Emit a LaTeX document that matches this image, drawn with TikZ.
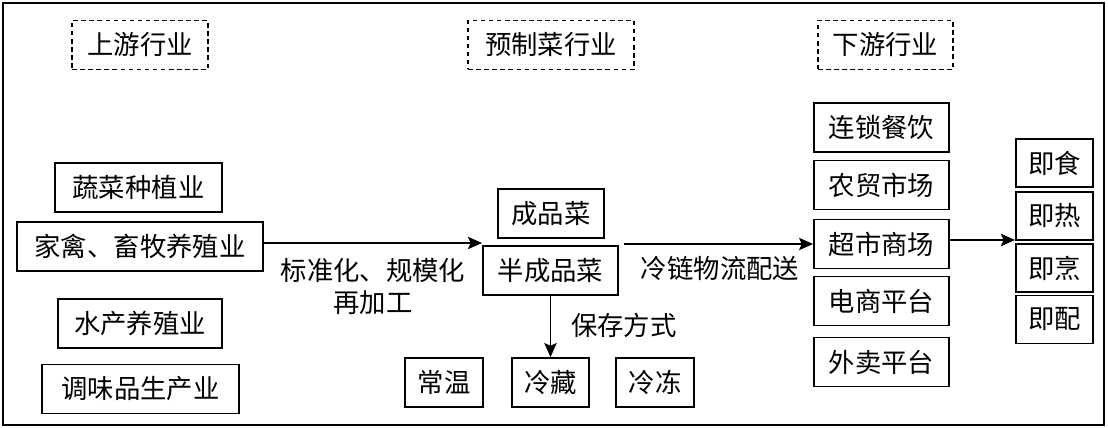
\documentclass[tikz,border=0pt]{standalone}
\usepackage{fontspec}
\setmainfont{Noto Sans CJK SC}
\usetikzlibrary{arrows.meta}
\tikzset{box/.style={draw, line width=1pt, inner sep=0pt, minimum height=0.98cm},
         hdr/.style={draw, dashed, dash pattern=on 2.6pt off 2pt, line width=1pt, inner sep=0pt, minimum height=0.98cm},
         flow/.style={line width=1pt, -{Stealth[length=8pt,width=7pt,inset=1.5pt]}}}

\begin{document}
\begin{tikzpicture}[x=0.02cm, y=-0.02cm, font=\fontsize{15}{18}\selectfont]
  \useasboundingbox (0,0) rectangle (1108,428);
  \draw[line width=1.5pt] (3,3) rectangle (1104,425);

  % ---------- column heads ----------
  \node[hdr, minimum width=2.72cm] (hup)   at (140,45)   {上游行业};
  \node[hdr, minimum width=3.32cm] (hpre)  at (551,45)   {预制菜行业};
  \node[hdr, minimum width=2.70cm] (hdown) at (885.5,45) {下游行业};

  % ---------- upstream ----------
  \node[box, minimum width=3.34cm] (veg)     at (138.5,187.5) {蔬菜种植业};
  \node[box, minimum width=4.92cm] (poultry) at (140,246.5)   {家禽、畜牧养殖业};
  \node[box, minimum width=3.28cm] (aqua)    at (140,323.5)   {水产养殖业};
  \node[box, minimum width=3.94cm] (season)  at (140.5,389)   {调味品生产业};

  % ---------- prepared dishes ----------
  \node[box, minimum width=2.12cm] (dish)   at (551,213.5)   {成品菜};
  \node[box, minimum width=2.70cm] (semi)   at (550.5,270.5) {半成品菜};
  \node[box, minimum width=1.56cm] (room)   at (444,382.5)   {常温};
  \node[box, minimum width=1.54cm] (chill)  at (550.5,382.5) {冷藏};
  \node[box, minimum width=1.56cm] (frozen) at (655,382.5)   {冷冻};

  % ---------- downstream ----------
  \node[box, minimum width=2.70cm] (chain)   at (881.5,127.5) {连锁餐饮};
  \node[box, minimum width=2.70cm] (market)  at (881.5,185)   {农贸市场};
  \node[box, minimum width=2.70cm] (super)   at (881.5,244)   {超市商场};
  \node[box, minimum width=2.70cm] (ecom)    at (881.5,301)   {电商平台};
  \node[box, minimum width=2.70cm] (takeout) at (881.5,362)   {外卖平台};

  \node[box, minimum width=1.54cm, minimum height=0.96cm] (eat)  at (1054.5,163)   {即食};
  \node[box, minimum width=1.54cm, minimum height=0.96cm] (heat) at (1054.5,216)   {即热};
  \node[box, minimum width=1.54cm, minimum height=0.96cm] (cook) at (1054.5,268)   {即烹};
  \node[box, minimum width=1.54cm, minimum height=0.96cm] (mix)  at (1054.5,319.5) {即配};

  % ---------- flows ----------
  \coordinate (pin)   at (482,243);
  \coordinate (cc)    at (624,244);
  \coordinate (ready) at (1015,240);

  \draw[flow] (poultry.east |- pin) -- (pin);
  \node (std)  at (373,270) {标准化、规模化};
  \node (redo) at (373,303) {再加工};

  \draw[flow] (cc) -- (super.west);
  \node (cold) at (720,268) {冷链物流配送};

  \draw[flow] (semi.south) -- (chill.north);
  \node[anchor=west] (keep) at (565,325) {保存方式};

  \draw[flow] (super.east |- ready) -- (ready);

\end{tikzpicture}
\end{document}
